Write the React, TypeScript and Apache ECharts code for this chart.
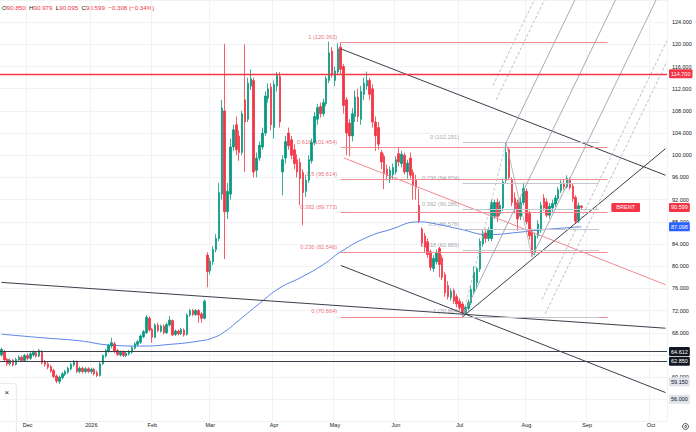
import React, { useEffect, useRef } from "react";
import * as echarts from "echarts";

// ---------- data ----------
const START = "2025-11-18";
const END = "2026-10-08";
const HOLIDAYS = ["2025-12-25", "2026-01-01", "2026-04-03"];
const MONTHS = ["Jan", "Feb", "Mar", "Apr", "May", "Jun", "Jul", "Aug", "Sep", "Oct", "Nov", "Dec"];

// daily candles [open, high, low, close], one per trading day from START
const CANDLES: number[][] = [
  [64.0, 65.3, 63.7, 65.0], [64.6, 64.9, 62.8, 63.1], [63.2, 63.5, 62.0, 62.4], [62.4, 63.4, 62.1, 63.0],
  [63.0, 63.3, 61.9, 62.2], [62.3, 63.5, 62.1, 63.2], [63.1, 63.9, 62.8, 63.6], [63.6, 63.9, 62.7, 63.0],
  [63.0, 64.2, 62.8, 63.9], [63.9, 64.3, 63.0, 63.4], [63.4, 64.5, 63.1, 64.2], [64.0, 64.8, 63.7, 64.5],
  [64.4, 64.7, 63.5, 63.8], [63.8, 65.1, 63.6, 64.8], [64.6, 64.9, 62.3, 62.6], [62.8, 63.1, 61.9, 62.3],
  [62.4, 62.7, 61.4, 61.8], [61.9, 62.2, 60.8, 61.1], [61.2, 61.5, 59.8, 60.1], [60.2, 60.5, 58.9, 59.3],
  [59.2, 60.3, 58.8, 60.0], [59.9, 60.9, 59.6, 60.6], [60.5, 61.3, 60.2, 61.0], [60.9, 61.9, 60.6, 61.6],
  [61.5, 62.6, 61.2, 62.3], [62.2, 63.1, 61.9, 62.8], [62.8, 63.0, 60.7, 61.0], [61.0, 61.9, 60.7, 61.6],
  [61.6, 61.9, 60.7, 61.0], [61.0, 61.8, 60.7, 61.5], [61.5, 61.8, 60.7, 61.0], [61.0, 61.7, 60.6, 61.4],
  [61.4, 61.7, 60.3, 60.6], [60.8, 61.2, 60.0, 60.3], [60.3, 62.7, 60.1, 62.4], [62.4, 64.1, 62.2, 63.9],
  [63.8, 65.1, 63.5, 64.8], [64.7, 66.0, 64.4, 65.7], [65.6, 67.1, 65.2, 66.2], [66.0, 66.4, 64.3, 64.6],
  [64.8, 65.1, 63.8, 64.1], [64.0, 64.8, 63.7, 64.5], [64.5, 64.8, 63.6, 63.9], [63.9, 64.6, 63.6, 64.3],
  [64.2, 64.9, 63.9, 64.6], [64.5, 65.6, 64.2, 65.3], [65.2, 66.3, 65.0, 66.0], [65.9, 66.7, 65.6, 66.4],
  [66.3, 67.7, 66.0, 67.4], [67.3, 68.5, 67.0, 68.2], [68.0, 71.2, 67.8, 70.8], [70.6, 71.0, 68.2, 68.5],
  [68.6, 68.9, 66.2, 67.2], [67.2, 69.7, 67.0, 69.4], [69.4, 69.8, 68.1, 68.4], [68.3, 69.5, 68.0, 69.2],
  [69.2, 69.5, 67.7, 68.0], [68.0, 69.8, 67.8, 69.5], [69.4, 71.0, 69.1, 70.3], [70.2, 70.4, 67.4, 67.6],
  [67.7, 68.6, 67.4, 68.3], [68.3, 68.6, 67.5, 67.8], [67.8, 68.9, 67.6, 68.6], [68.5, 68.8, 67.3, 67.6],
  [67.7, 71.5, 67.5, 71.2], [71.2, 72.3, 70.9, 72.0], [72.0, 72.3, 71.0, 71.3], [71.3, 72.3, 71.0, 72.0],
  [72.0, 72.3, 69.8, 71.2], [71.4, 71.7, 69.8, 70.6], [70.6, 74.0, 70.4, 73.7], [82.0, 82.5, 76.2, 79.0],
  [79.2, 81.5, 78.5, 80.9], [80.8, 83.6, 80.2, 83.0], [83.0, 85.8, 82.5, 85.0], [85.0, 95.0, 84.5, 93.3],
  [93.0, 110.0, 92.0, 108.5], [108.0, 120.1, 81.3, 89.8], [89.8, 95.0, 88.5, 93.5], [93.0, 103.0, 92.0, 101.5],
  [101.5, 105.5, 100.8, 104.6], [105.5, 107.0, 100.0, 101.0], [103.5, 104.5, 99.0, 100.5], [100.5, 108.0, 100.0, 107.5],
  [110.0, 120.0, 97.0, 106.0], [106.5, 114.0, 106.0, 113.0], [112.5, 115.5, 111.8, 113.8], [113.5, 114.0, 96.0, 97.0],
  [97.3, 100.5, 96.0, 99.5], [99.5, 102.5, 99.0, 101.8], [101.5, 105.0, 101.0, 104.0], [104.0, 111.5, 103.5, 110.7],
  [110.3, 113.0, 109.5, 112.0], [112.3, 113.0, 104.5, 105.5], [105.0, 113.5, 103.0, 112.8], [112.5, 115.0, 111.5, 114.4],
  [114.2, 115.0, 105.0, 106.0], [97.0, 100.0, 92.8, 99.2], [99.5, 103.5, 98.5, 102.5], [104.0, 105.0, 101.0, 101.7],
  [102.8, 103.5, 99.3, 100.0], [101.0, 102.0, 97.5, 98.5], [99.2, 100.2, 96.0, 97.0], [98.7, 99.5, 91.0, 95.8],
  [96.9, 97.5, 87.4, 93.3], [93.5, 96.5, 92.5, 95.5], [95.5, 100.0, 95.0, 99.2], [99.0, 103.0, 98.5, 102.3],
  [102.3, 107.8, 101.8, 107.0], [106.5, 109.3, 105.5, 108.6], [108.8, 109.5, 106.8, 107.5], [107.5, 110.2, 107.0, 109.5],
  [109.3, 114.3, 108.8, 113.8], [113.5, 120.5, 113.0, 118.5], [118.8, 119.5, 114.0, 114.5], [113.5, 116.0, 112.5, 115.2],
  [115.0, 120.2, 114.5, 119.2], [119.5, 120.363, 114.5, 115.5], [116.0, 116.5, 107.5, 109.0], [110.0, 110.5, 100.0, 104.0],
  [105.8, 106.5, 99.8, 103.5], [103.5, 108.5, 102.5, 107.5], [107.0, 111.7, 106.0, 110.5], [110.5, 112.0, 106.0, 107.0],
  [106.5, 112.5, 105.5, 111.5], [111.0, 114.0, 110.0, 113.0], [112.5, 115.1, 111.8, 113.5], [113.5, 114.0, 110.0, 111.0],
  [112.0, 112.8, 105.0, 106.0], [106.0, 107.0, 100.8, 103.5], [105.0, 106.0, 101.0, 102.0], [100.5, 101.0, 97.5, 98.8],
  [99.8, 100.3, 93.9, 96.8], [97.5, 98.3, 95.5, 96.3], [95.8, 98.0, 95.0, 97.3], [96.5, 98.5, 95.7, 97.8],
  [97.0, 99.8, 96.5, 99.2], [100.3, 101.5, 98.0, 98.8], [98.5, 100.8, 97.8, 100.2], [100.0, 100.5, 96.5, 97.0],
  [97.0, 99.2, 95.8, 98.6], [99.5, 100.5, 95.8, 96.4], [96.9, 97.5, 92.0, 94.6], [95.5, 96.5, 92.0, 94.2],
  [91.0, 94.0, 87.8, 88.2], [86.7, 87.0, 83.5, 84.2], [85.5, 86.0, 82.5, 83.4], [84.4, 85.0, 81.5, 82.1],
  [82.6, 83.0, 79.2, 79.8], [79.6, 82.0, 79.0, 81.4], [80.8, 83.0, 80.3, 82.4], [83.2, 83.5, 78.0, 80.3],
  [81.5, 82.0, 77.5, 78.0], [78.5, 79.0, 74.5, 75.2], [76.5, 77.3, 74.0, 74.5], [74.3, 76.0, 73.8, 75.5],
  [75.6, 76.0, 73.2, 73.7], [74.5, 75.0, 72.6, 73.2], [73.7, 74.2, 72.0, 72.5], [73.2, 73.6, 70.864, 71.6],
  [71.6, 73.0, 71.2, 72.6], [72.4, 74.0, 72.0, 73.4], [73.4, 76.5, 73.0, 75.8], [75.5, 80.0, 75.0, 78.9],
  [77.0, 79.8, 76.0, 79.6], [79.5, 85.0, 79.0, 84.5], [84.0, 86.5, 83.5, 85.7], [86.0, 86.8, 84.2, 85.0],
  [85.0, 87.0, 84.5, 86.5], [85.0, 92.0, 84.5, 91.5], [89.0, 92.0, 88.5, 91.5], [91.5, 92.2, 88.0, 89.0],
  [89.5, 91.8, 89.0, 91.0], [90.5, 95.8, 90.0, 95.2], [95.5, 102.291, 95.0, 100.5], [101.0, 101.5, 95.5, 96.0],
  [95.5, 96.0, 90.8, 91.5], [92.3, 93.3, 89.5, 90.3], [91.5, 92.0, 86.4, 88.5], [89.0, 92.3, 88.3, 91.5],
  [91.5, 95.1, 91.0, 94.0], [93.5, 94.0, 87.5, 88.0], [89.5, 90.0, 84.8, 85.5], [86.2, 86.8, 81.7, 82.2],
  [82.5, 86.0, 82.0, 85.5], [85.5, 88.3, 85.0, 87.6], [86.5, 91.6, 86.0, 91.0], [92.3, 93.0, 90.0, 90.5],
  [91.6, 92.2, 88.8, 89.2], [89.2, 91.4, 88.6, 90.8], [90.5, 92.0, 89.8, 91.3], [91.2, 92.8, 90.7, 92.3],
  [92.2, 94.3, 91.8, 93.8], [93.6, 95.5, 93.2, 95.0], [95.0, 95.6, 93.8, 94.3], [94.3, 96.4, 94.0, 95.8],
  [95.7, 96.0, 93.8, 94.2], [94.4, 94.8, 91.6, 92.2], [92.4, 92.8, 87.6, 88.1], [88.3, 91.5, 87.9, 90.907],
  [90.85, 90.979, 90.095, 90.599],
];

// moving average [date, value]
const MA_POINTS: [string, number][] = [
  ["2025-11-18", 67.75], ["2025-12-08", 67.1], ["2025-12-26", 66.55], ["2026-01-12", 65.8],
  ["2026-01-27", 65.6], ["2026-02-10", 65.9], ["2026-02-24", 66.5], ["2026-03-03", 67.1],
  ["2026-03-09", 68.2], ["2026-03-16", 70.3], ["2026-03-25", 73.3], ["2026-04-06", 76.1],
  ["2026-04-15", 77.9], ["2026-04-27", 80.3], ["2026-05-05", 82.6], ["2026-05-18", 85.2],
  ["2026-05-28", 86.6], ["2026-06-11", 88.0], ["2026-06-19", 87.6], ["2026-07-01", 86.7],
  ["2026-07-15", 85.7], ["2026-07-29", 86.1], ["2026-08-11", 86.6], ["2026-08-28", 87.098],
];

// trend lines [date, price] -> [date, price]
const DARK_LINES: [string, number][][] = [
  [["2025-11-18", 77.08], ["2026-10-08", 68.82]],
  [["2026-05-05", 119.2], ["2026-10-08", 96.4]],
  [["2026-07-02", 70.864], ["2026-10-08", 101.2]],
  [["2026-05-05", 80.14], ["2026-10-08", 57.21]],
];
const PINK_LINES: [string, number][][] = [
  [["2026-05-06", 99.54], ["2026-10-08", 76.66]],
];

// Fibonacci retracements [ratio label, level]
const FIB1_RANGE = ["2026-05-05", "2026-09-10"];
const FIB1_LEVELS: [string, number][] = [
  ["1", 120.363], ["0.618", 101.454], ["0.5", 95.614], ["0.382", 89.773], ["0.236", 82.546], ["0", 70.864],
];
const FIB2_RANGE = ["2026-07-02", "2026-09-07"];
const FIB2_ANCHORS: [string, number][] = [["2026-07-02", 70.864], ["2026-07-23", 102.291]];
const FIB2_LEVELS: [string, number][] = [
  ["0", 102.291], ["0.236", 94.874], ["0.382", 90.286], ["0.5", 86.578], ["0.618", 82.869], ["1", 70.864],
];

// pitchfork anchors and extra (dashed) levels
const PITCHFORK: [string, number][] = [["2026-07-02", 70.864], ["2026-07-23", 102.291], ["2026-08-05", 81.7]];
const PITCHFORK_DASHED = [1.75, 2];

// horizontal levels and axis tags
const RED_LEVEL = 114.7;
const BLACK_LEVELS = [64.612, 62.85];
const MA_LAST = 87.098;
const GRAY_TAGS = [59.15, 56.0];
const HIDDEN_TICKS = [64, 56]; // axis values fully covered by tags

const Y_MIN = 52;
const Y_MAX = 128;

// ---------- helpers ----------
function buildDates(): string[] {
  const out: string[] = [];
  const d = new Date(START + "T00:00:00Z");
  const end = new Date(END + "T00:00:00Z");
  while (d <= end) {
    const wd = d.getUTCDay();
    const s = d.toISOString().slice(0, 10);
    if (wd !== 0 && wd !== 6 && HOLIDAYS.indexOf(s) < 0) out.push(s);
    d.setUTCDate(d.getUTCDate() + 1);
  }
  return out;
}

const FONT = '"Liberation Sans", Arial, sans-serif';
const UP = "#089981";
const DOWN = "#f23645";

export default function App() {
  const ref = useRef<HTMLDivElement>(null);

  useEffect(() => {
    document.body.style.margin = "0";
    const DATES = buildDates();
    const X_MAX = DATES.length - 0.5;
    const at = (d: string) => DATES.indexOf(d);
    const pt = (p: [string, number]): [number, number] => [at(p[0]), p[1]];

    const monthStart = new Set<number>();
    for (let i = 1; i < DATES.length; i++) {
      if (DATES[i].slice(5, 7) !== DATES[i - 1].slice(5, 7)) monthStart.add(i);
    }
    const monthLabel = (s: string) => {
      const m = parseInt(s.slice(5, 7), 10) - 1;
      return m === 0 ? s.slice(0, 4) : MONTHS[m];
    };

    const segs: any[] = [];
    const seg = (a: number[], b: number[], color: string, width = 1, type: any = "solid") =>
      segs.push({ coords: [a, b], lineStyle: { color, width, type, opacity: 1 } });

    DARK_LINES.forEach((l) => seg(pt(l[0]), pt(l[1]), "#3b3f4a", 1));
    PINK_LINES.forEach((l) => seg(pt(l[0]), pt(l[1]), "#f08a90", 1));

    // fib lines
    FIB1_LEVELS.forEach(([, v]) => seg([at(FIB1_RANGE[0]), v], [at(FIB1_RANGE[1]), v], "#f08d92", 1));
    FIB2_LEVELS.forEach(([, v]) => seg([at(FIB2_RANGE[0]), v], [at(FIB2_RANGE[1]), v], "#c4c7ce", 1));
    seg(pt(FIB2_ANCHORS[0]), pt(FIB2_ANCHORS[1]), "#b8bbc3", 0.8, [3, 2]);

    // pitchfork
    const [x1, y1] = pt(PITCHFORK[0]);
    const [x2, y2] = pt(PITCHFORK[1]);
    const [x3, y3] = pt(PITCHFORK[2]);
    const mx = (x2 + x3) / 2, my = (y2 + y3) / 2;
    const dx = mx - x1, dy = my - y1;
    const hx = x3 - mx, hy = y3 - my;
    const ray = (sx: number, sy: number) => {
      const s = Math.min((Y_MAX - sy) / dy, (X_MAX - sx) / dx);
      return [[sx, sy], [sx + dx * s, sy + dy * s]];
    };
    const r0 = ray(x1, y1);
    seg(r0[0], r0[1], "#9ea2ab", 0.9);
    [-1, 1].forEach((k) => {
      const r = ray(mx + k * hx, my + k * hy);
      seg(r[0], r[1], "#9ea2ab", 0.9);
    });
    PITCHFORK_DASHED.forEach((lv) =>
      [-lv, lv].forEach((k) => {
        const r = ray(mx + k * hx, my + k * hy);
        seg(r[0], r[1], "#b4b8c0", 0.9, [3, 2]);
      })
    );
    seg([x2, y2], [x3, y3], "#a6aab2", 0.8);

    const fibLabels = (range: string[], levels: [string, number][], color: string) =>
      levels.map(([r, v]) => ({
        value: [at(range[0]), v],
        name: `${r} (${v.toFixed(3)})`,
        label: { color },
      }));

    const last = CANDLES[CANDLES.length - 1];
    const prev = CANDLES[CANDLES.length - 2];
    const chg = last[3] - prev[3];
    const pct = (chg / prev[3]) * 100;
    const sgn = (v: number, d: number) => (v < 0 ? "\u2212" + Math.abs(v).toFixed(d) : "+" + v.toFixed(d));

    const tag = (value: number, text: string, bg: string, fg: string, lineColor = "rgba(0,0,0,0)", width = 1) => ({
      yAxis: value,
      lineStyle: { color: lineColor, width, type: "solid" },
      label: {
        show: true,
        position: "end",
        distance: 2,
        formatter: text,
        backgroundColor: bg,
        color: fg,
        padding: [1.5, 2, 1, 2],
        fontSize: 5.5,
        lineHeight: 6.5,
        fontFamily: FONT,
        borderRadius: 1,
      },
    });

    const chart = echarts.init(ref.current!, null, { renderer: "svg" });
    chart.setOption({
      animation: false,
      backgroundColor: "#ffffff",
      grid: { left: 0, right: 29, top: -4.1, bottom: 10.5 },
      xAxis: [
        {
          type: "category",
          data: DATES,
          boundaryGap: true,
          axisLine: { show: false },
          axisTick: { show: false },
          axisLabel: {
            interval: (i: number) => monthStart.has(i),
            formatter: (v: string) => monthLabel(v),
            fontSize: 5.5,
            color: "#131722",
            fontFamily: FONT,
            margin: 0,
          },
          splitLine: {
            show: true,
            interval: (i: number) => monthStart.has(i),
            lineStyle: { color: "#f0f2f6", width: 1 },
          },
        },
        { type: "value", min: -0.5, max: X_MAX, show: false },
      ],
      yAxis: {
        type: "value",
        position: "right",
        min: Y_MIN,
        max: Y_MAX,
        interval: 4,
        axisLine: { show: false },
        axisTick: { show: false },
        axisLabel: {
          formatter: (v: number) => (HIDDEN_TICKS.indexOf(v) >= 0 ? "" : v.toFixed(3)),
          fontSize: 5.5,
          color: "#131722",
          fontFamily: FONT,
          margin: 5,
          showMinLabel: false,
          showMaxLabel: false,
        },
        splitLine: { lineStyle: { color: "#f0f2f6", width: 1 } },
      },
      series: [
        {
          type: "line",
          xAxisIndex: 1,
          data: MA_POINTS.map((p) => pt(p)),
          smooth: 0.5,
          showSymbol: false,
          silent: true,
          lineStyle: { color: "#5a84e6", width: 1 },
          z: 2,
        },
        {
          type: "scatter",
          xAxisIndex: 1,
          symbol: "circle",
          symbolSize: 1,
          silent: true,
          itemStyle: { color: "rgba(0,0,0,0)" },
          data: [
            ...fibLabels(FIB1_RANGE, FIB1_LEVELS, "#e94a55"),
            ...fibLabels(FIB2_RANGE, FIB2_LEVELS, "#8d9099"),
          ],
          label: {
            show: true,
            position: "left",
            distance: 3,
            offset: [0, -5.5],
            formatter: "{b}",
            fontSize: 5.7,
            fontFamily: FONT,
          },
          z: 1,
        },
        {
          type: "candlestick",
          xAxisIndex: 0,
          data: CANDLES.map(([o, h, l, c]) => [o, c, l, h]),
          barWidth: 2,
          itemStyle: { color: UP, color0: DOWN, borderColor: UP, borderColor0: DOWN, borderWidth: 0.8 },
          z: 3,
          markLine: {
            silent: true,
            symbol: ["none", "none"],
            animation: false,
            data: [
              tag(RED_LEVEL, RED_LEVEL.toFixed(3), "#f23645", "#ffffff", "#f23645", 1.4),
              ...BLACK_LEVELS.map((v) => tag(v, v.toFixed(3), "#131722", "#ffffff", "#3b3f4a", 1)),
              tag(last[3], last[3].toFixed(3), "#f23645", "#ffffff"),
              {
                yAxis: last[3],
                lineStyle: { color: "rgba(0,0,0,0)" },
                label: {
                  show: true,
                  position: "insideEnd",
                  distance: [27, 0],
                  formatter: "BRENT",
                  backgroundColor: "#f23645",
                  color: "#ffffff",
                  padding: [1.5, 5, 1, 5],
                  fontSize: 5.5,
                  lineHeight: 6.5,
                  fontFamily: FONT,
                  borderRadius: 1,
                },
              },
              tag(MA_LAST, MA_LAST.toFixed(3), "#2962ff", "#ffffff"),
              ...GRAY_TAGS.map((v) => tag(v, v.toFixed(3), "#e0e3eb", "#131722")),
            ],
          },
        },
        {
          type: "lines",
          coordinateSystem: "cartesian2d",
          xAxisIndex: 1,
          polyline: false,
          silent: true,
          data: segs,
          z: 4,
        },
      ],
      graphic: [
        {
          type: "text",
          left: 2,
          top: 1.5,
          style: {
            text:
              `{k|O}{v|${last[0].toFixed(3)}} {k|H}{v|${last[1].toFixed(3)}} {k|L}{v|${last[2].toFixed(3)}} ` +
              `{k|C}{v|${last[3].toFixed(3)}} {v|${sgn(chg, 3)} (${sgn(pct, 2)}%)}`,
            rich: {
              k: { fill: "#131722", fontSize: 6.2, fontFamily: FONT },
              v: { fill: "#f23645", fontSize: 6.2, fontFamily: FONT },
            },
          },
        },
        {
          type: "rect",
          left: -3,
          top: 383,
          shape: { width: 19, height: 52, r: 3 },
          style: { fill: "#ffffff", stroke: "#e0e3eb", lineWidth: 0.8 },
        },
        {
          type: "text",
          left: 4.5,
          top: 388,
          style: { text: "\u00d7", fill: "#131722", fontSize: 8, fontFamily: FONT },
        },
        {
          type: "circle",
          left: 680,
          top: 421,
          shape: { r: 3 },
          style: { fill: "none", stroke: "#131722", lineWidth: 0.7 },
        },
        {
          type: "circle",
          left: 682,
          top: 423,
          shape: { r: 1 },
          style: { fill: "none", stroke: "#131722", lineWidth: 0.7 },
        },
      ],
    });

    return () => chart.dispose();
  }, []);

  return <div ref={ref} style={{ width: 696, height: 432 }} />;
}
